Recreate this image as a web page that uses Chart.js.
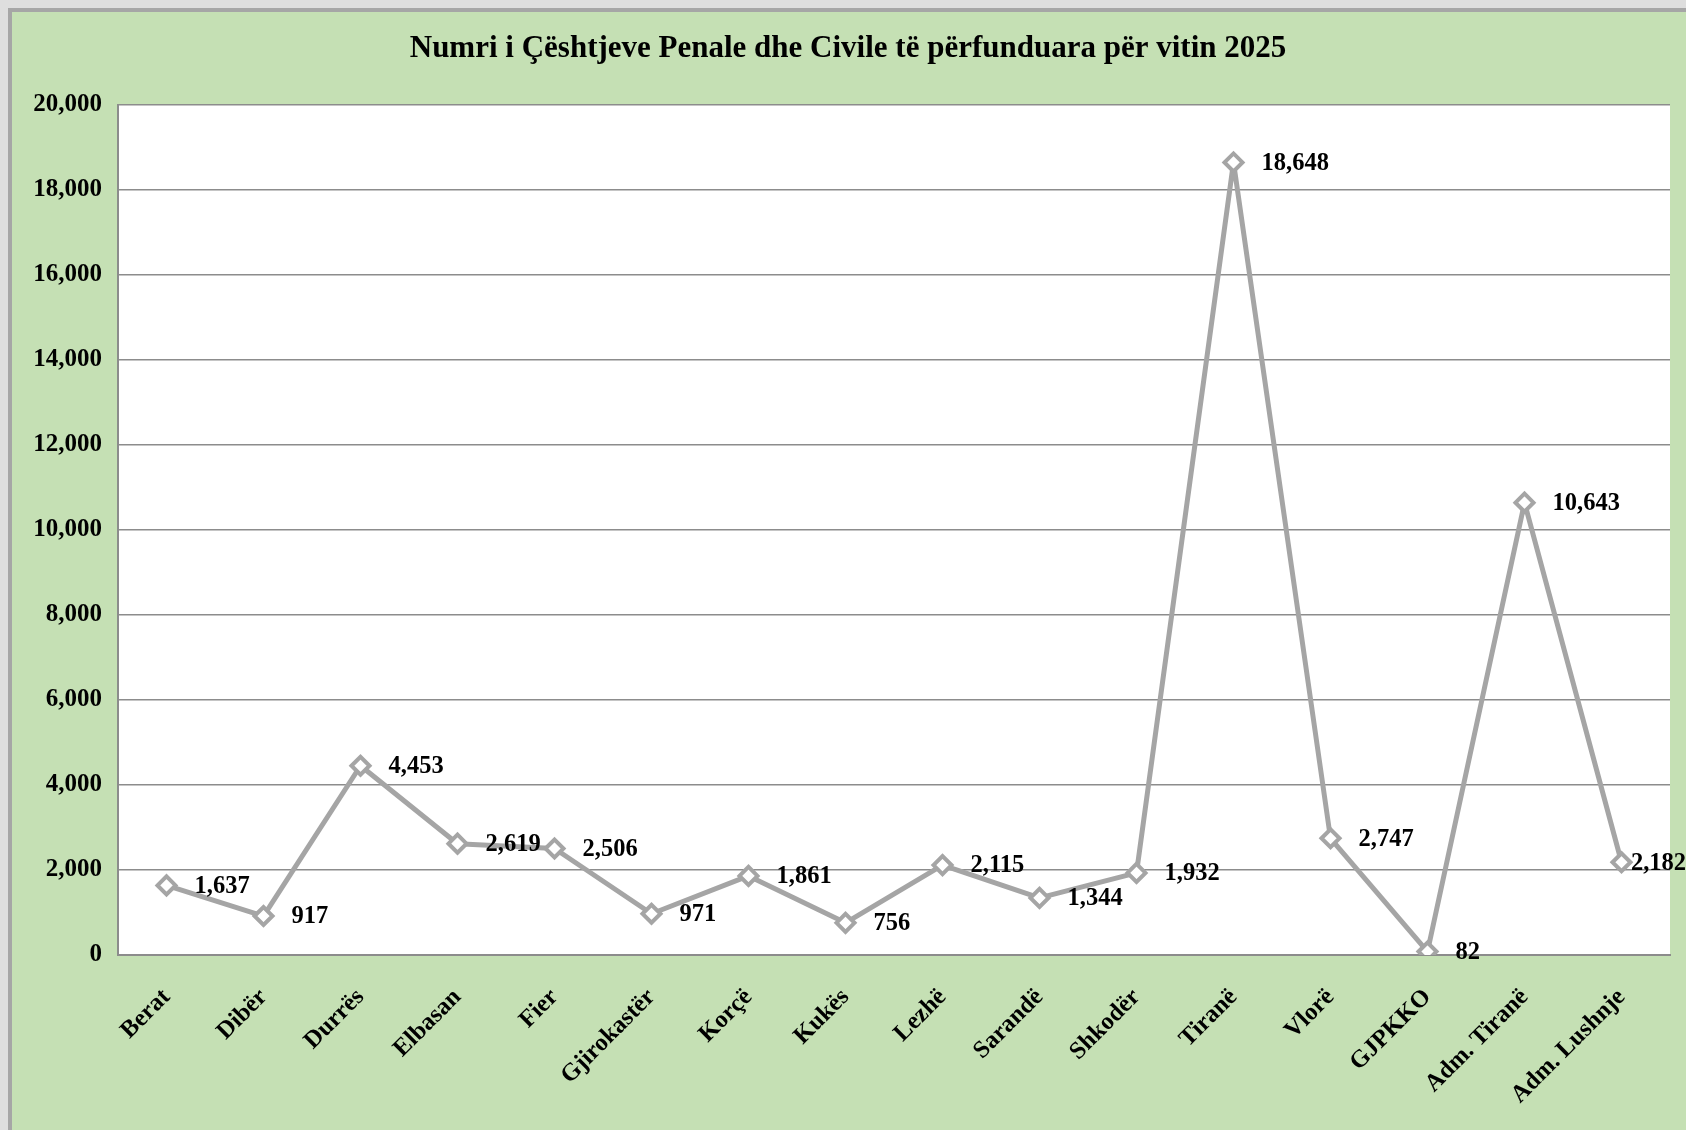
<!DOCTYPE html>
<html>
<head>
<meta charset="utf-8">
<script src="https://cdn.jsdelivr.net/npm/chart.js@4/dist/chart.umd.min.js"></script>
<style>
  html, body { margin: 0; padding: 0; background: #dedede; width: 1686px; height: 1130px; overflow: hidden; }
  #frame { position: absolute; left: 8px; top: 8px; width: 1674px; height: 1118px;
           border-left: 4px solid #a6a6a6; border-top: 4px solid #a6a6a6; background: #C5E0B4; }
  #wrap { position: absolute; left: 0; top: 0; width: 1674px; height: 1118px; }
</style>
</head>
<body>
<div id="frame"><div id="wrap"><canvas id="c" width="1674" height="1118"></canvas></div></div>
<script>
const titleText = "Numri i Çështjeve Penale dhe Civile të përfunduara për vitin 2025";
const categories = ["Berat", "Dibër", "Durrës", "Elbasan", "Fier", "Gjirokastër", "Korçë", "Kukës",
  "Lezhë", "Sarandë", "Shkodër", "Tiranë", "Vlorë", "GJPKKO", "Adm. Tiranë", "Adm. Lushnje"];
const values = [1637, 917, 4453, 2619, 2506, 971, 1861, 756, 2115, 1344, 1932, 18648, 2747, 82, 10643, 2182];
const yMin = 0, yMax = 20000, yStep = 2000;

const FONT = "'Liberation Serif', 'DejaVu Serif', serif";

const plotBg = {
  id: 'plotBg',
  beforeDraw(chart) {
    const { ctx, chartArea: a } = chart;
    ctx.save();
    ctx.fillStyle = '#ffffff';
    ctx.fillRect(a.left, a.top, a.right - a.left, a.bottom - a.top);
    ctx.restore();
  }
};

const valueLabels = {
  id: 'valueLabels',
  afterDatasetsDraw(chart) {
    const { ctx } = chart;
    const meta = chart.getDatasetMeta(0);
    ctx.save();
    ctx.font = "bold 24.5px " + FONT;
    ctx.fillStyle = '#000';
    ctx.textAlign = 'left';
    ctx.textBaseline = 'middle';
    meta.data.forEach((pt, i) => {
      const txt = values[i].toLocaleString('en-US');
      const w = ctx.measureText(txt).width;
      let x = pt.x + 28;
      if (x + w > chart.width) x = chart.width - w;
      ctx.fillText(txt, x, pt.y + 1);
    });
    ctx.restore();
  }
};

new Chart(document.getElementById('c'), {
  type: 'line',
  data: {
    labels: categories,
    datasets: [{
      data: values,
      borderColor: '#A5A5A5',
      borderWidth: 5,
      borderJoinStyle: 'round',
      tension: 0,
      pointStyle: 'rectRot',
      pointRadius: 9,
      pointHoverRadius: 9,
      pointBorderWidth: 4,
      pointBorderColor: '#A5A5A5',
      pointBackgroundColor: '#ffffff'
    }]
  },
  options: {
    responsive: false,
    animation: false,
    events: [],
    layout: { padding: { left: 14, right: 16, top: 0, bottom: 0 } },
    plugins: {
      legend: { display: false },
      tooltip: { enabled: false },
      title: {
        display: true,
        text: titleText,
        color: '#000',
        font: { family: FONT, size: 31, weight: 'bold', lineHeight: 1.2 },
        padding: { top: 18.2, bottom: 37.6 }
      }
    },
    scales: {
      x: {
        type: 'category',
        offset: true,
        grid: { display: false, drawTicks: false },
        border: { display: true, color: '#8c8c8c', width: 2 },
        ticks: {
          color: '#000',
          font: { family: FONT, size: 24.5, weight: 'bold' },
          minRotation: 45,
          maxRotation: 45,
          padding: 28,
          autoSkip: false
        },
        afterFit(s) { s.height = 175; }
      },
      y: {
        min: yMin,
        max: yMax,
        ticks: {
          stepSize: yStep,
          color: '#000',
          font: { family: FONT, size: 25, weight: 'bold' },
          padding: 16,
          callback: v => Number(v).toLocaleString('en-US')
        },
        grid: { color: '#8c8c8c', lineWidth: 1.5, drawTicks: false },
        border: { display: true, color: '#8c8c8c', width: 2 },
        afterFit(s) { s.width = 92; }
      }
    }
  },
  plugins: [plotBg, valueLabels]
});
</script>
</body>
</html>
